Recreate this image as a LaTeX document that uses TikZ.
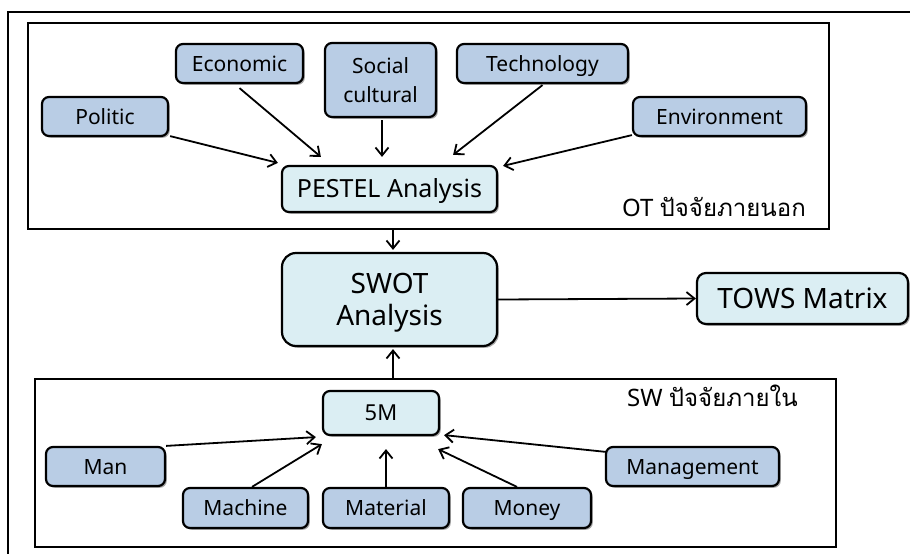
\documentclass[tikz,border=0pt]{standalone}
\usepackage{fontspec}
\setmainfont{Noto Sans}
\newfontfamily\thaifont[Script=Thai]{Loma}
\usetikzlibrary{arrows.meta,shadows,calc}
\definecolor{facfill}{HTML}{B9CDE5}
\definecolor{corefill}{HTML}{DBEEF3}
\tikzset{
  base/.style={draw=black, line width=2.2pt, rounded corners=7pt,
    drop shadow={shadow xshift=1.8pt, shadow yshift=-1.8pt, opacity=0.35, fill=black},
    inner sep=0pt, align=center, text=black, text depth=0pt},
  factor/.style={base, fill=facfill, font=\fontsize{21}{29}\selectfont, text height=15pt},
  core/.style={base, fill=corefill},
  conn/.style={-{Straight Barb[length=8pt,width=13pt,line width=1.8pt]}, line width=1.8pt},
  framebox/.style={draw=black, line width=2pt, inner sep=0pt, anchor=north west},
  lbl/.style={anchor=east, font=\fontsize{24}{28}\selectfont, inner sep=0pt}
}
\begin{document}
\begin{tikzpicture}[x=1pt,y=-1pt]
\useasboundingbox (0,0) rectangle (910,554);
\fill[white] (0,0) rectangle (910,554);
% outer frame (partly cut)
\coordinate (o1) at (8,556);
\coordinate (o2) at (8,12);
\coordinate (o3) at (912,12);
\draw[line width=2pt] (o1) -- (o2) -- (o3);
% frames
\node[framebox, minimum width=801pt, minimum height=206pt] (ot) at (27,22) {};
\node[framebox, minimum width=801pt, minimum height=168pt] (sw) at (34,378) {};
\node[lbl] (otlabel) at (806,207) {OT {\thaifont ปัจจัยภายนอก}};
\node[lbl] (swlabel) at (798,396) {SW {\thaifont ปัจจัยภายใน}};
% PESTEL factors
\node[factor, minimum width=126pt, minimum height=39pt] (politic) at (105,116.5) {Politic};
\node[factor, minimum width=127pt, minimum height=39pt] (economic) at (239.5,63.5) {Economic};
\node[factor, minimum width=111pt, minimum height=74pt, text height=] (social) at (380.5,80) {Social\\cultural};
\node[factor, minimum width=171pt, minimum height=39pt] (technology) at (542.5,63.5) {Technology};
\node[factor, minimum width=173pt, minimum height=39pt] (environment) at (719.5,116.5) {Environment};
% core
\node[core, minimum width=215pt, minimum height=46pt, font=\fontsize{25}{30}\selectfont, text height=17.8pt] (pestel) at (389.5,189) {PESTEL Analysis};
\node[core, minimum width=215pt, minimum height=93pt, rounded corners=14pt, font=\fontsize{28}{32}\selectfont] (swot) at (389.5,299.5) {SWOT\\Analysis};
\node[core, minimum width=211pt, minimum height=51pt, rounded corners=9pt, font=\fontsize{28}{32}\selectfont, text height=20pt] (tows) at (802.5,298.5) {TOWS Matrix};
\node[core, minimum width=116pt, minimum height=44pt, font=\fontsize{22}{28}\selectfont, text height=15.7pt] (fivem) at (381,413) {5M};
% 5M factors
\node[factor, minimum width=119pt, minimum height=39pt] (man) at (105.5,466.5) {Man};
\node[factor, minimum width=125pt, minimum height=40pt] (machine) at (245.5,508) {Machine};
\node[factor, minimum width=126pt, minimum height=40pt] (material) at (386,508) {Material};
\node[factor, minimum width=128pt, minimum height=40pt] (money) at (527,508) {Money};
\node[factor, minimum width=173pt, minimum height=39pt] (management) at (692.5,466.5) {Management};
% connectors to PESTEL
\draw[conn] ($(politic.south east)+(1,-1)$) -- ($(pestel.north west)+(-3,-2)$);
\draw[conn] ($(economic.south)+(0,4)$) -- ($(pestel.north west)+(40,-8)$);
\draw[conn] ($(social.south)+(1.5,2)$) -- ($(social.south |- pestel.north)+(1.5,-8)$);
\draw[conn] ($(technology.south)+(0,1)$) -- ($(pestel.north east)+(-45,-10)$);
\draw[conn] ($(environment.south west)+(0,-2)$) -- ($(pestel.north east)+(5,1)$);
% main flow
\draw[conn, shorten >=2pt] ($(ot.south -| swot.north)+(3.5,0)$) -- ($(swot.north)+(3.5,0)$);
\draw[conn, shorten >=2pt] ($(sw.north -| swot.south)+(3.5,0)$) -- ($(swot.south)+(3.5,0)$);
\draw[conn] (swot.east) -- (tows.west);
% connectors to 5M
\draw[conn] (man.north east) -- ($(fivem.south west)+(-6,1)$);
\draw[conn] ($(machine.north)+(6.5,0)$) -- ($(fivem.south west)+(0,8)$);
\draw[conn] (material.north) -- ($(material.north |- fivem.south)+(0,13)$);
\draw[conn] ($(money.north)+(-10,0)$) -- ($(fivem.south east)+(-2,13)$);
\draw[conn] ($(management.north west)+(1,6)$) -- ($(fivem.south east)+(4,-1)$);
\end{tikzpicture}
\end{document}
